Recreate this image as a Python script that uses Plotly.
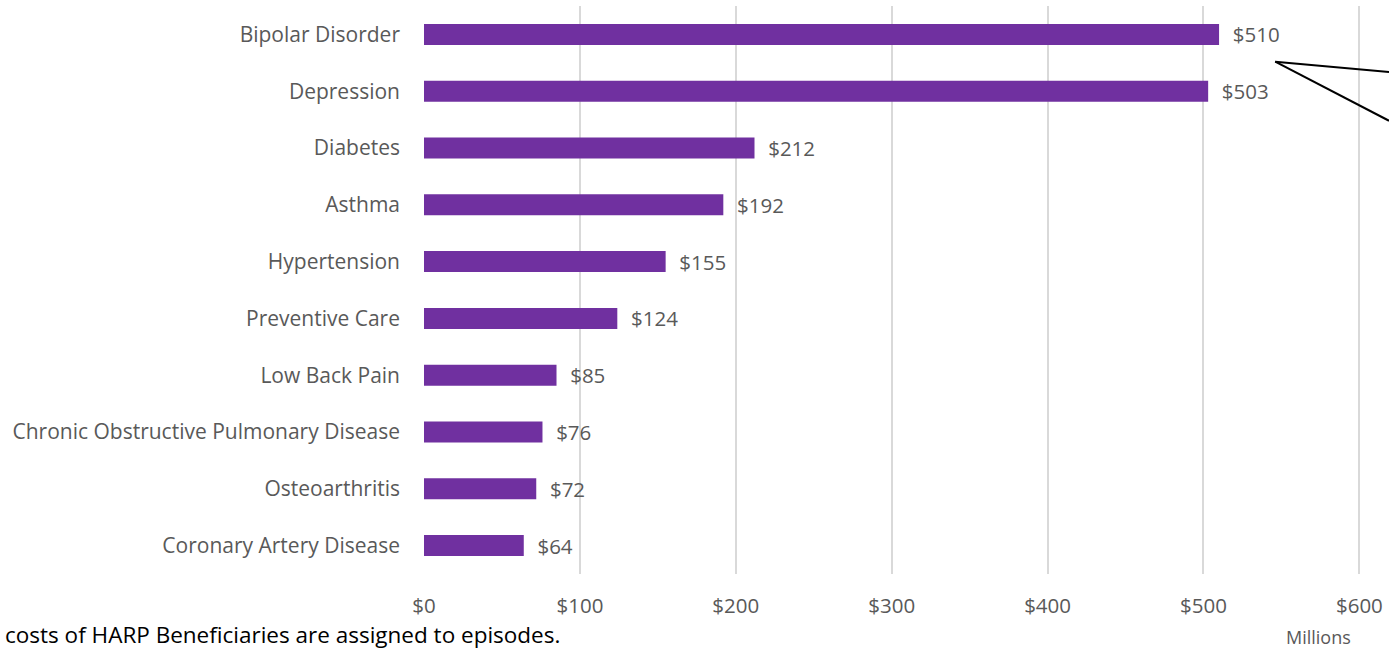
import plotly.graph_objects as go

# Episode cost by condition (millions of dollars)
conditions = [
    "Bipolar Disorder",
    "Depression",
    "Diabetes",
    "Asthma",
    "Hypertension",
    "Preventive Care",
    "Low Back Pain",
    "Chronic Obstructive Pulmonary Disease",
    "Osteoarthritis",
    "Coronary Artery Disease",
]
costs = [510, 503, 212, 192, 155, 124, 85, 76, 72, 64]

tick_values = [0, 100, 200, 300, 400, 500, 600]
tick_labels = ["$0", "$100", "$200", "$300", "$400", "$500", "$600"]

FONT = "Open Sans"
GREY = "#595959"
PURPLE = "#7030A0"

W, H = 1389, 650
M_LEFT, M_RIGHT, M_TOP, M_BOTTOM = 424, 0, 6, 76

fig = go.Figure(
    go.Bar(
        x=costs,
        y=conditions,
        orientation="h",
        marker=dict(color=PURPLE, line=dict(width=0)),
        text=[f"\u00a0\u00a0${v}" for v in costs],
        textposition="outside",
        constraintext="none",
        textfont=dict(family=FONT, size=20.5, color=GREY),
        cliponaxis=False,
        hoverinfo="skip",
    )
)

fig.update_layout(
    width=W,
    height=H,
    margin=dict(l=M_LEFT, r=M_RIGHT, t=M_TOP, b=M_BOTTOM, pad=0),
    paper_bgcolor="white",
    plot_bgcolor="white",
    bargap=0.63,
    showlegend=False,
    font=dict(family=FONT, color=GREY),
)

fig.update_xaxes(
    range=[0, 619],
    tickvals=tick_values,
    ticktext=tick_labels,
    tickfont=dict(family=FONT, size=20.5, color=GREY),
    showgrid=True,
    gridcolor="#d9d9d9",
    gridwidth=2,
    zeroline=False,
    showline=False,
    ticks="",
    ticklabelstandoff=17,
    fixedrange=True,
)

fig.update_yaxes(
    autorange="reversed",
    tickfont=dict(family=FONT, size=21, color=GREY),
    showgrid=False,
    zeroline=False,
    showline=False,
    ticks="",
    ticklabelstandoff=23,
    fixedrange=True,
)

# Pointer lines leading off to the callout on the right
callout_tip = (546, 0.48)
for end in [(619, 0.66), (619, 1.52)]:
    fig.add_shape(
        type="line",
        xref="x", yref="y",
        x0=callout_tip[0], y0=callout_tip[1], x1=end[0], y1=end[1],
        line=dict(color="black", width=2),
    )

plot_w = W - M_LEFT - M_RIGHT
plot_h = H - M_TOP - M_BOTTOM

fig.add_annotation(
    text="Millions",
    xref="paper", yref="paper",
    x=(1318 - M_LEFT) / plot_w, y=-(637 - (M_TOP + plot_h)) / plot_h,
    xanchor="center", yanchor="middle",
    showarrow=False,
    font=dict(family=FONT, size=18, color=GREY),
)

fig.add_annotation(
    text="costs of HARP Beneficiaries are assigned to episodes.",
    xref="paper", yref="paper",
    x=(3 - M_LEFT) / plot_w, y=-(634 - (M_TOP + plot_h)) / plot_h,
    xanchor="left", yanchor="middle",
    showarrow=False,
    font=dict(family=FONT, size=22.5, color="black"),
)

fig.write_html("out.html")
